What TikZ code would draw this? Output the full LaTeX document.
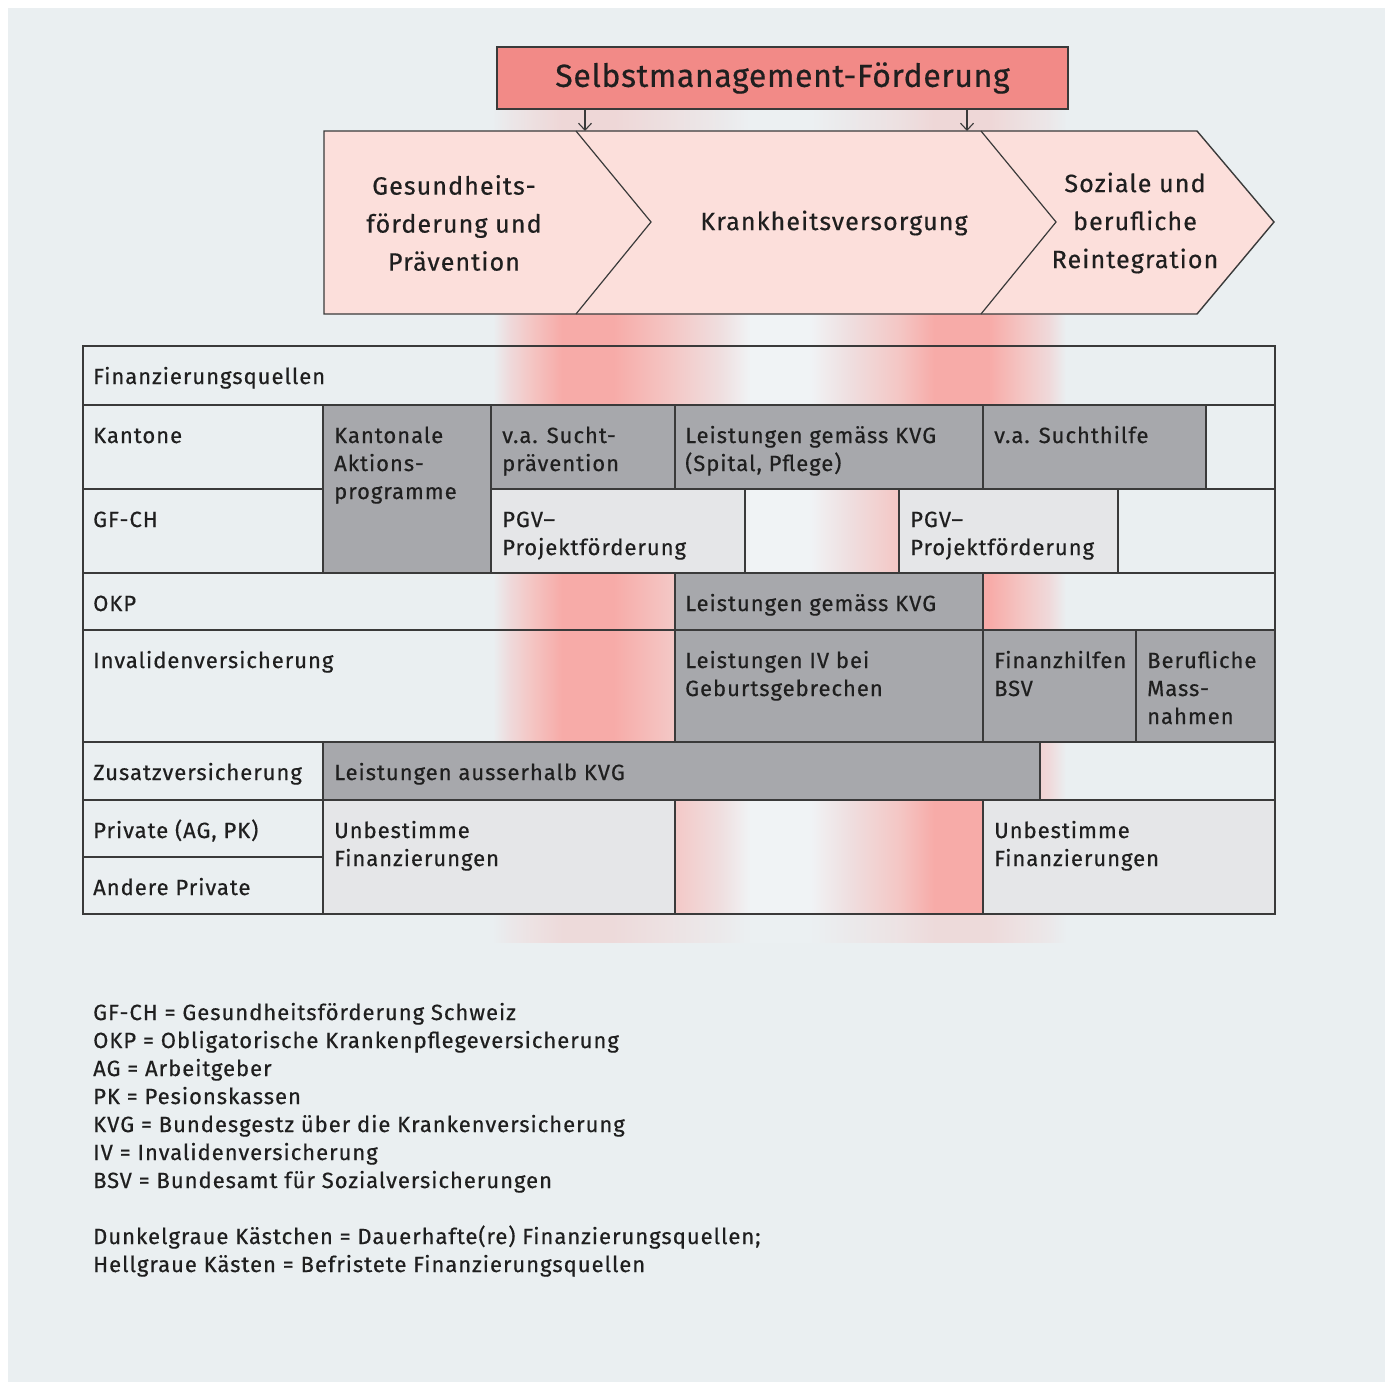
\documentclass[tikz,border=0pt]{standalone}
\usepackage{fontspec}
\setmainfont{Fira Sans}[LetterSpace=4.5,FakeBold=0.5]
\newfontfamily\titlefont{Fira Sans}[LetterSpace=2,FakeBold=0.5]
\usetikzlibrary{arrows.meta}
\definecolor{bgc}{HTML}{EAEFF1}
\definecolor{darkc}{HTML}{A7A8AC}
\definecolor{lightc}{HTML}{E5E6E8}
\definecolor{chevc}{HTML}{FCDFDB}
\definecolor{titlec}{HTML}{F28A87}
\definecolor{linec}{HTML}{3A3A3A}
\definecolor{peakc}{HTML}{F7ABA8}
\definecolor{midpk}{HTML}{F4C6C4}
\definecolor{edgepk}{HTML}{EFD9DA}
\definecolor{fadepk}{HTML}{EFDEDF}
\definecolor{whc}{HTML}{F0F3F5}
\pgfdeclarehorizontalshading{bandshade}{100bp}{color(0bp)=(bgc); color(25bp)=(bgc); color(26.5bp)=(edgepk); color(28.3bp)=(midpk); color(31bp)=(peakc); color(35.5bp)=(peakc); color(40.4bp)=(midpk); color(44.8bp)=(fadepk); color(47.4bp)=(whc); color(52.7bp)=(whc); color(56.2bp)=(fadepk); color(60.5bp)=(midpk); color(63.5bp)=(peakc); color(68.3bp)=(peakc); color(71.2bp)=(midpk); color(73.5bp)=(edgepk); color(75bp)=(bgc); color(100bp)=(bgc)}
\newcommand\cellbox[5]{\path[cell,#1] (#2,#3) rectangle (#4,#5);}
\newcommand\celltext[4]{\node[celltxt] (#1) at (#2,#3) {\parbox[t]{320pt}{\raggedright #4}};}
\tikzset{
  cell/.style={draw=linec, line width=1.6pt},
  dark/.style={fill=darkc},
  light/.style={fill=lightc},
  plain/.style={},
  celltxt/.style={anchor=base west, inner sep=0pt, font=\fontsize{22}{28}\selectfont, text=black!88},
  chevtxt/.style={align=center, inner sep=0pt, font=\fontsize{25}{38}\selectfont, text=black!88},
  arr/.style={draw=linec, line width=1.1pt, -{Straight Barb[length=7pt,width=13pt,line width=1.1pt]}}
}
\begin{document}
\begin{tikzpicture}[x=1pt,y=-1pt]
\useasboundingbox (0,0) rectangle (1391,1382);
\fill[white] (0,0) rectangle (1391,1382);
\fill[bgc] (8,8) rectangle (1385,1382);
% background bands
\shade[shading=bandshade, opacity=0.35] (493,109) rectangle (1066,131);
\shade[shading=bandshade] (493,314) rectangle (1066,914);
\shade[shading=bandshade, opacity=0.3] (493,914) rectangle (1066,942);
% chevrons
\path[fill=chevc, draw=linec, line width=1.4pt] (324,131) -- (1197,131) -- (1274,222) -- (1197,314) -- (324,314) -- cycle;
\draw[linec, line width=1.2pt] (576,131) -- (651,222) -- (576,314);
\draw[linec, line width=1.2pt] (981,131) -- (1056,222) -- (981,314);
\node[chevtxt] (c1) at (454,223) {Gesundheits-\\förderung und\\Prävention};
\node[chevtxt] (c2) at (834,223) {Krankheitsversorgung};
\node[chevtxt] (c3) at (1135,223) {Soziale und\\berufliche\\Reintegration};
% title
\node[draw=linec, line width=1.4pt, fill=titlec, minimum width=571pt, minimum height=62pt, inner sep=0pt, font=\titlefont\fontsize{32}{36}\selectfont, text=black!88] (T) at (782.5,78) {Selbstmanagement-Förderung};
\coordinate (a1) at (585,131);
\coordinate (a2) at (967,131);
\draw[arr] (T.south -| a1) -- (a1);
\draw[arr] (T.south -| a2) -- (a2);
% table cells
\cellbox{plain}{83}{346}{1275}{405}
\cellbox{plain}{83}{405}{323}{489}
\cellbox{plain}{1206}{405}{1275}{489}
\cellbox{plain}{83}{489}{323}{573}
\cellbox{plain}{745}{489}{899}{573}
\cellbox{plain}{1118}{489}{1275}{573}
\cellbox{plain}{83}{573}{675}{630}
\cellbox{plain}{983}{573}{1275}{630}
\cellbox{plain}{83}{630}{675}{742}
\cellbox{plain}{83}{742}{323}{800}
\cellbox{plain}{1040}{742}{1275}{800}
\cellbox{plain}{83}{800}{323}{857}
\cellbox{plain}{83}{857}{323}{914}
\cellbox{plain}{675}{800}{983}{914}
\cellbox{dark}{323}{405}{491}{573}
\cellbox{dark}{491}{405}{675}{489}
\cellbox{dark}{675}{405}{983}{489}
\cellbox{dark}{983}{405}{1206}{489}
\cellbox{dark}{675}{573}{983}{630}
\cellbox{dark}{675}{630}{983}{742}
\cellbox{dark}{983}{630}{1136}{742}
\cellbox{dark}{1136}{630}{1275}{742}
\cellbox{dark}{323}{742}{1040}{800}
\cellbox{light}{491}{489}{745}{573}
\cellbox{light}{899}{489}{1118}{573}
\cellbox{light}{323}{800}{675}{914}
\cellbox{light}{983}{800}{1275}{914}
% table texts
\celltext{t1}{93}{384}{Finanzierungsquellen}
\celltext{t2}{93}{443}{Kantone}
\celltext{t3}{334}{443}{Kantonale\\Aktions-\\programme}
\celltext{t4}{502}{443}{v.a. Sucht-\\prävention}
\celltext{t5}{685}{443}{Leistungen gemäss KVG\\(Spital, Pflege)}
\celltext{t6}{994}{443}{v.a. Suchthilfe}
\celltext{t7}{93}{527}{GF-CH}
\celltext{t8}{502}{527}{PGV–\\Projektförderung}
\celltext{t9}{910}{527}{PGV–\\Projektförderung}
\celltext{t10}{93}{611}{OKP}
\celltext{t11}{685}{611}{Leistungen gemäss KVG}
\celltext{t12}{93}{668}{Invalidenversicherung}
\celltext{t13}{685}{668}{Leistungen IV bei\\Geburtsgebrechen}
\celltext{t14}{994}{668}{Finanzhilfen\\BSV}
\celltext{t15}{1147}{668}{Berufliche\\Mass-\\nahmen}
\celltext{t16}{93}{780}{Zusatzversicherung}
\celltext{t17}{334}{780}{Leistungen ausserhalb KVG}
\celltext{t18}{93}{838}{Private (AG, PK)}
\celltext{t19}{93}{895}{Andere Private}
\celltext{t20}{334}{838}{Unbestimme\\Finanzierungen}
\celltext{t21}{994}{838}{Unbestimme\\Finanzierungen}
% legend
\node[celltxt] (leg) at (93,1020) {\parbox[t]{900pt}{\raggedright GF-CH = Gesundheitsförderung Schweiz\\
OKP = Obligatorische Krankenpflegeversicherung\\
AG = Arbeitgeber\\
PK = Pesionskassen\\
KVG = Bundesgestz über die Krankenversicherung\\
IV = Invalidenversicherung\\
BSV = Bundesamt für Sozialversicherungen\\[28pt]
Dunkelgraue Kästchen = Dauerhafte(re) Finanzierungsquellen;\\
Hellgraue Kästen = Befristete Finanzierungsquellen}};
\end{tikzpicture}
\end{document}
